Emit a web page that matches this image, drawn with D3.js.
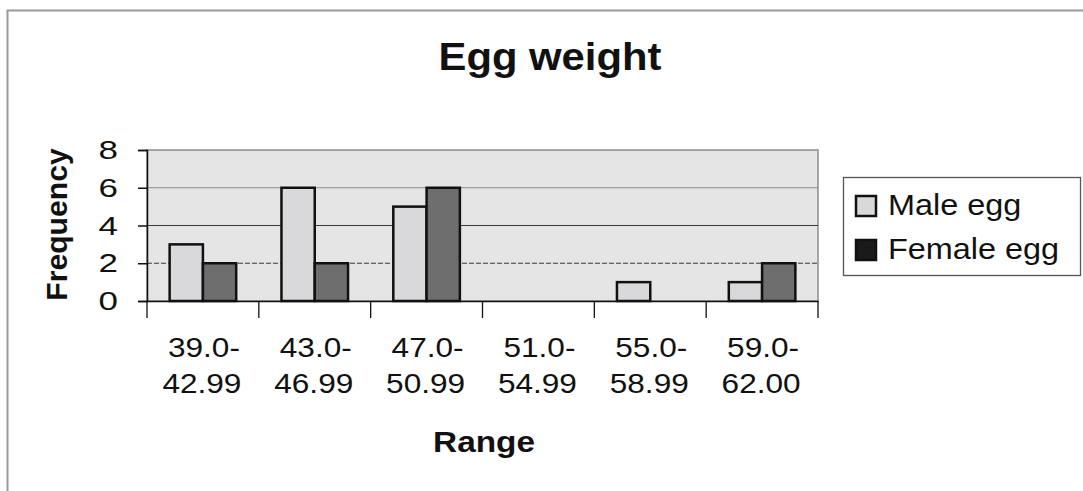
<!DOCTYPE html>
<html>
<head>
<meta charset="utf-8">
<script src="https://cdn.jsdelivr.net/npm/d3@7"></script>
<style>
  html, body { margin: 0; padding: 0; background: #ffffff; }
  svg { display: block; }
  text { font-family: Arial, "Liberation Sans", sans-serif; fill: #111; }
</style>
</head>
<body>
<svg id="chart" width="1083" height="491"></svg>
<script>
// Weight ranges (g) and counts per range
const rangeStart = ["39.0-", "43.0-", "47.0-", "51.0-", "55.0-", "59.0-"];
const rangeEnd   = ["42.99", "46.99", "50.99", "54.99", "58.99", "62.00"];
const maleEgg    = [3, 6, 5, 0, 1, 1];
const femaleEgg  = [2, 2, 6, 0, 0, 2];
const seriesNames = ["Male egg", "Female egg"];
const yTicks = [0, 2, 4, 6, 8];

const svg = d3.select("#chart");
const W = 1083, H = 491;

// text drawn with a slight horizontal stretch
function wideText(parent, str, x, y, opts) {
  const o = Object.assign({ size: 26, weight: "normal", anchor: "middle", sx: 1.17, rotate: 0 }, opts);
  return parent.append("text")
    .attr("transform", `translate(${x},${y}) rotate(${o.rotate}) scale(${o.sx},1)`)
    .attr("text-anchor", o.anchor)
    .style("font-size", o.size + "px")
    .style("font-weight", o.weight)
    .text(str);
}

// outer chart frame (left and top edges)
svg.append("path")
  .attr("d", `M7.5,${H} L7.5,10.5 L${W},10.5`)
  .attr("fill", "none").attr("stroke", "#9a9a9a").attr("stroke-width", 2);

const plot = { left: 147, right: 818, top: 150, bottom: 301 };

const x = d3.scaleBand()
  .domain(d3.range(rangeStart.length))
  .range([plot.left, plot.right])
  .paddingInner(0).paddingOuter(0);

const y = d3.scaleLinear().domain([0, 8]).range([plot.bottom, plot.top]);

// plot area background
svg.append("rect")
  .attr("x", plot.left).attr("y", plot.top)
  .attr("width", plot.right - plot.left).attr("height", plot.bottom - plot.top)
  .attr("fill", "#e5e5e5").attr("stroke", "#8c8c8c").attr("stroke-width", 1.5);

// horizontal gridlines
svg.append("g").selectAll("line")
  .data(yTicks.filter(d => d > 0 && d < 8))
  .join("line")
  .attr("x1", plot.left).attr("x2", plot.right)
  .attr("y1", d => y(d)).attr("y2", d => y(d))
  .attr("stroke", d => d === 6 ? "#8a8a8a" : "#3a3a3a")
  .attr("stroke-dasharray", d => d === 2 ? "5,2" : null)
  .attr("stroke-width", 1.2);

// bars
const inner = d3.scaleBand().domain([0, 1]).range([0, x.bandwidth()]).paddingOuter(0.68).paddingInner(0);
const fills = ["#d9d9db", "#6e6e6e"];
const seriesData = [maleEgg, femaleEgg];

seriesData.forEach((vals, s) => {
  const rows = vals.map((v, i) => ({ v, i })).filter(r => r.v > 0);
  svg.append("g").selectAll("rect")
    .data(rows)
    .join("rect")
    .attr("x", r => x(r.i) + inner(s))
    .attr("y", r => y(r.v))
    .attr("width", inner.bandwidth())
    .attr("height", r => y(0) - y(r.v))
    .attr("fill", fills[s])
    .attr("stroke", "#111").attr("stroke-width", 2.5);
});

// y axis: line and ticks from the D3 axis, labels drawn stretched
const yAxis = svg.append("g")
  .attr("transform", `translate(${plot.left},0)`)
  .call(d3.axisLeft(y).tickValues(yTicks).tickSize(9).tickFormat(""));
yAxis.select(".domain").attr("stroke", "#111").attr("stroke-width", 1.5);
yAxis.selectAll(".tick line").attr("stroke", "#111").attr("stroke-width", 1.5);
const yLab = svg.append("g");
yTicks.forEach(t => {
  wideText(yLab, d3.format("d")(t), 118, y(t) + 9, { size: 25, anchor: "end", sx: 1.4 });
});

// x axis baseline and category separators
const xAxis = svg.append("g")
  .attr("transform", `translate(0,${plot.bottom})`)
  .call(d3.axisBottom(x).tickSize(0).tickFormat(""));
xAxis.select(".domain").attr("stroke", "#111").attr("stroke-width", 1.5);
svg.append("g").selectAll("line")
  .data(d3.range(rangeStart.length + 1))
  .join("line")
  .attr("x1", i => plot.left + i * x.step()).attr("x2", i => plot.left + i * x.step())
  .attr("y1", plot.bottom).attr("y2", plot.bottom + 17)
  .attr("stroke", "#111").attr("stroke-width", 1.3);

// category labels, two lines each
const labels = svg.append("g");
rangeStart.forEach((s, i) => {
  wideText(labels, s, x(i) + x.bandwidth() / 2 + 1, 357, { size: 27, sx: 1.17 });
});
rangeEnd.forEach((s, i) => {
  wideText(labels, s, x(i) + x.bandwidth() / 2 - 1, 393, { size: 27, sx: 1.17 });
});

// titles
wideText(svg, "Egg weight", 550, 70, { size: 38, weight: "bold", sx: 1.1 });
wideText(svg, "Frequency", 67, (plot.top + plot.bottom) / 2 - 1, { size: 29, weight: "bold", sx: 1.04, rotate: -90 });
wideText(svg, "Range", 484, 452, { size: 29, weight: "bold", sx: 1.15 });

// legend
const legend = svg.append("g").attr("transform", "translate(843,177)");
legend.append("rect")
  .attr("x", 0.5).attr("y", 0.5).attr("width", 237).attr("height", 98)
  .attr("fill", "#ffffff").attr("stroke", "#555").attr("stroke-width", 1.3);
seriesNames.forEach((name, i) => {
  const g = legend.append("g").attr("transform", `translate(13,${19 + i * 44})`);
  g.append("rect")
    .attr("x", 0).attr("y", 0).attr("width", 20).attr("height", 20)
    .attr("fill", i === 0 ? fills[0] : "#1a1a1a")
    .attr("stroke", "#111").attr("stroke-width", 2.5);
  wideText(g, name, 32, 19, { size: 30, anchor: "start", sx: 1.08 });
});
</script>
</body>
</html>
